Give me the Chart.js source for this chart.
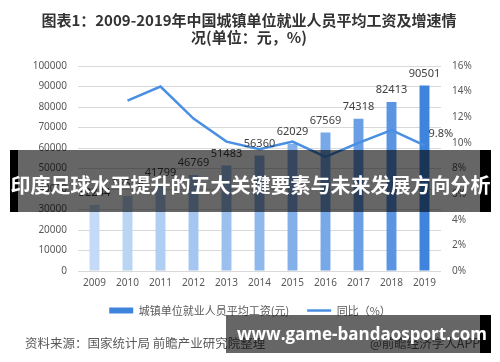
<!DOCTYPE html>
<html>
<head>
<meta charset="utf-8">
<script src="https://cdn.jsdelivr.net/npm/chart.js@4.4.1/dist/chart.umd.min.js"></script>
<style>
  body { margin: 0; background: #fff; }
  #wrap { position: relative; width: 500px; height: 362px; overflow: hidden; font-family: "Noto Sans CJK SC", "Noto Sans", sans-serif; }
  #chart-box { position: absolute; left: 0; top: 0; width: 500px; height: 362px; }
  .title { position: absolute; left: 0; width: 498px; text-align: center; font-weight: bold; font-size: 15px; color: #333; line-height: 17px; white-space: nowrap; }
  .source { position: absolute; top: 334px; font-size: 12.5px; color: #595959; line-height: 18px; white-space: nowrap; }
  .banner { position: absolute; left: 10px; top: 150px; width: 481px; height: 62px; background: rgba(0,0,0,0.6); border-left: 8px solid #000; border-right: 11px solid #000; box-sizing: border-box; }
  .banner span { position: absolute; left: -8px; width: 481px; top: 0; line-height: 70px; text-align: center; color: #fff; font-weight: bold; font-size: 20px; white-space: nowrap; }
  .mark { position: absolute; left: 226px; top: 315px; width: 265px; height: 38px; background: rgba(0,0,0,0.6); border-right: 11px solid #000; box-sizing: border-box; }
  .mark span { position: absolute; left: 11px; top: 0; line-height: 38px; color: #fff; font-weight: bold; font-size: 17px; font-family: "Open Sans", sans-serif; white-space: nowrap; }
</style>
</head>
<body>
<div id="wrap">
  <div id="chart-box"><canvas id="wage-chart"></canvas></div>
  <div class="title" style="top:11px">图表1：2009-2019年中国城镇单位就业人员平均工资及增速情</div>
  <div class="title" style="top:28px">况(单位：元，%)</div>
  <div class="source" style="left:25px">资料来源：国家统计局 前瞻产业研究院整理</div>
  <div class="source" style="left:370px">@前瞻经济学人APP</div>
  <div class="banner"><span>印度足球水平提升的五大关键要素与未来发展方向分析</span></div>
  <div class="mark"><span>www.game-bandaosport.com</span></div>
</div>
<script>
// ---- データ ----
const years = ['2009', '2010', '2011', '2012', '2013', '2014', '2015', '2016', '2017', '2018', '2019'];
const avgWage = [32244, 36539, 41799, 46769, 51483, 56360, 62029, 67569, 74318, 82413, 90501];
const wageGrowth = [null, 13.3, 14.4, 11.9, 10.1, 9.5, 10.1, 8.9, 10.0, 11.0, 9.8];
const barColors = ['#c4daf6', '#bad4f4', '#b0cdf2', '#a5c6f0', '#9bc0ee', '#8fb8ec', '#84b0ea', '#77a8e8', '#6a9fe6', '#5a94e3', '#3f84dc'];
const wageTicks = [0, 10000, 20000, 30000, 40000, 50000, 60000, 70000, 80000, 90000, 100000];

const tickFont = { family: '"Noto Sans", "Noto Sans CJK SC", sans-serif', size: 10 };
const tickColor = '#595959';

// ---- 数値ラベル ----
const valueLabels = {
  id: 'valueLabels',
  afterDatasetsDraw(chart) {
    const ctx = chart.ctx;
    ctx.save();
    ctx.font = '11px "Noto Sans", "Noto Sans CJK SC", sans-serif';
    ctx.fillStyle = '#404040';
    ctx.textBaseline = 'middle';
    ctx.textAlign = 'center';
    chart.getDatasetMeta(0).data.forEach((el, i) => {
      ctx.fillText(String(avgWage[i]), el.x, el.y - 12);
    });
    const pts = chart.getDatasetMeta(1).data;
    const last = pts[pts.length - 1];
    ctx.textAlign = 'left';
    ctx.fillText(wageGrowth[wageGrowth.length - 1].toFixed(1) + '%', last.x + 4, last.y - 12);
    ctx.restore();
  },
};

new Chart(document.getElementById('wage-chart'), {
  data: {
    labels: years,
    datasets: [
      {
        type: 'bar',
        label: '城镇单位就业人员平均工资(元)',
        data: avgWage,
        backgroundColor: barColors,
        yAxisID: 'y',
        order: 2,
        barPercentage: 0.3,
        categoryPercentage: 1,
      },
      {
        type: 'line',
        label: '同比（%）',
        data: wageGrowth,
        borderColor: '#4a8fe2',
        borderWidth: 2.5,
        pointRadius: 0,
        tension: 0,
        yAxisID: 'y1',
        order: 1,
      },
    ],
  },
  options: {
    responsive: true,
    maintainAspectRatio: false,
    animation: false,
    layout: { padding: { top: 66, left: 0, right: 0, bottom: 36 } },
    plugins: {
      tooltip: { enabled: false },
      legend: {
        position: 'bottom',
        labels: {
          font: { family: '"Noto Sans CJK SC", sans-serif', size: 11 },
          color: '#595959',
          usePointStyle: true,
          pointStyleWidth: 24,
          boxHeight: 6,
          padding: 18,
          generateLabels: () => [
            { text: '城镇单位就业人员平均工资(元)', fillStyle: '#3f84dc', strokeStyle: '#3f84dc', lineWidth: 0, pointStyle: 'rect', fontColor: '#595959', datasetIndex: 0 },
            { text: '同比（%）', fillStyle: '#4a8fe2', strokeStyle: '#4a8fe2', lineWidth: 2.5, pointStyle: 'line', fontColor: '#595959', datasetIndex: 1 },
          ],
        },
      },
    },
    scales: {
      x: {
        grid: { display: false, drawTicks: false },
        border: { display: false },
        ticks: { font: tickFont, color: tickColor, padding: 6 },
        afterFit: (s) => { s.height = 16; },
      },
      y: {
        position: 'left',
        min: 0,
        max: 100000,
        afterBuildTicks: (s) => { s.ticks = wageTicks.map((v) => ({ value: v })); },
        grid: { color: '#d9d9d9', lineWidth: 1, drawTicks: false },
        border: { display: false },
        ticks: { font: tickFont, color: tickColor, padding: 11, callback: (v) => String(v) },
        afterFit: (s) => { s.width = 78; },
      },
      y1: {
        position: 'right',
        min: 0,
        max: 16,
        grid: { display: false, drawTicks: false },
        border: { display: false },
        ticks: { stepSize: 2, font: tickFont, color: tickColor, padding: 11, callback: (v) => v + '%' },
        afterFit: (s) => { s.width = 59; },
      },
    },
  },
  plugins: [valueLabels],
});
</script>
</body>
</html>
